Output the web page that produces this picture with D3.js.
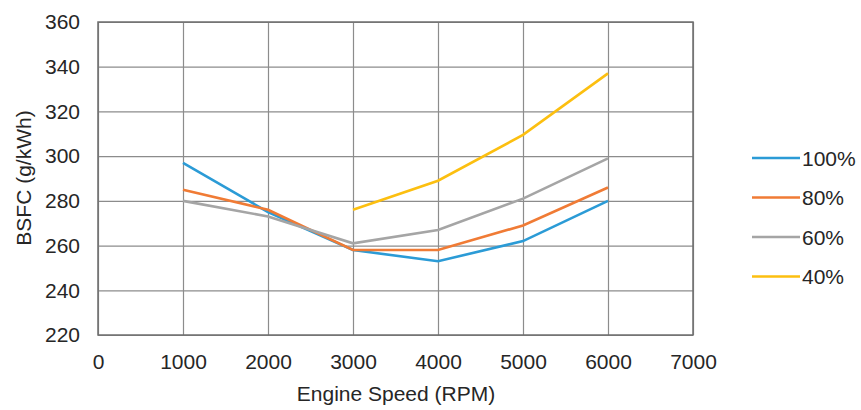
<!DOCTYPE html>
<html>
<head>
<meta charset="utf-8">
<script src="https://cdn.jsdelivr.net/npm/d3@7"></script>
<style>
body { margin: 0; background: #fff; }
text { font-family: "Liberation Sans", Arial, sans-serif; fill: #262626; }
</style>
</head>
<body>
<svg id="chart"></svg>
<script>
// data
var speeds = [1000, 2000, 3000, 4000, 5000, 6000];
var load100 = [297, 275, 258, 253, 262, 280];
var load80 = [285, 276, 258, 258, 269, 286];
var load60 = [280, 273, 261, 267, 281, 299];
var load40 = [null, null, 276, 289, 309.5, 337];
var seriesNames = ['100%', '80%', '60%', '40%'];
var seriesColors = ['#2b9bd6', '#f07b35', '#a5a5a5', '#fcbf10'];
var xTicks = [0, 1000, 2000, 3000, 4000, 5000, 6000, 7000];
var yTicks = [220, 240, 260, 280, 300, 320, 340, 360];

var svg = d3.select('#chart').attr('width', 861).attr('height', 410);
var margin = {left: 98, top: 22, right: 693, bottom: 335};

var x = d3.scaleLinear().domain([0, 7000]).range([margin.left, margin.right]);
var y = d3.scaleLinear().domain([220, 360]).range([margin.bottom, margin.top]);

// grid
svg.append('g')
  .attr('transform', 'translate(0,' + margin.bottom + ')')
  .call(d3.axisBottom(x).tickValues(xTicks).tickSize(-(margin.bottom - margin.top)).tickFormat(''))
  .call(g => g.select('.domain').remove())
  .selectAll('line').attr('stroke', '#8c8c8c').attr('stroke-width', 1.2);
svg.append('g')
  .attr('transform', 'translate(' + margin.left + ',0)')
  .call(d3.axisLeft(y).tickValues(yTicks).tickSize(-(margin.right - margin.left)).tickFormat(''))
  .call(g => g.select('.domain').remove())
  .selectAll('line').attr('stroke', '#8c8c8c').attr('stroke-width', 1.2);

// frame
svg.append('rect')
  .attr('x', margin.left).attr('y', margin.top)
  .attr('width', margin.right - margin.left).attr('height', margin.bottom - margin.top)
  .attr('fill', 'none').attr('stroke', '#6e6e6e').attr('stroke-width', 1.5);

// tick labels
var xl = svg.append('g')
  .attr('transform', 'translate(0,' + margin.bottom + ')')
  .call(d3.axisBottom(x).tickValues(xTicks).tickSize(0).tickPadding(19).tickFormat(d3.format('d')));
xl.select('.domain').remove();
xl.selectAll('text').style('font-size', '21px').attr('fill', '#262626');

var yl = svg.append('g')
  .attr('transform', 'translate(' + margin.left + ',0)')
  .call(d3.axisLeft(y).tickValues(yTicks).tickSize(0).tickPadding(18).tickFormat(d3.format('d')));
yl.select('.domain').remove();
yl.selectAll('text').style('font-size', '21px').attr('fill', '#262626');

// axis titles
svg.append('text')
  .attr('x', 396).attr('y', 401)
  .attr('text-anchor', 'middle')
  .style('font-size', '21px')
  .text('Engine Speed (RPM)');
svg.append('text')
  .attr('transform', 'translate(31,178)rotate(-90)')
  .attr('text-anchor', 'middle')
  .style('font-size', '21px')
  .text('BSFC (g/kWh)');

// lines
var allSeries = [load100, load80, load60, load40];
var line = d3.line()
  .defined(d => d[1] !== null)
  .x(d => x(d[0]))
  .y(d => y(d[1]));

allSeries.forEach(function(vals, i) {
  svg.append('path')
    .datum(speeds.map((s, j) => [s, vals[j]]))
    .attr('d', line)
    .attr('fill', 'none')
    .attr('stroke', seriesColors[i])
    .attr('stroke-width', 2.6);
});

// legend
var legend = svg.append('g');
seriesNames.forEach(function(name, i) {
  var ly = 158 + i * 39.5;
  legend.append('line')
    .attr('x1', 752).attr('x2', 800)
    .attr('y1', ly).attr('y2', ly)
    .attr('stroke', seriesColors[i]).attr('stroke-width', 2.6);
  legend.append('text')
    .attr('x', 802).attr('y', ly + 7.5)
    .style('font-size', '21px')
    .text(name);
});
</script>
</body>
</html>
